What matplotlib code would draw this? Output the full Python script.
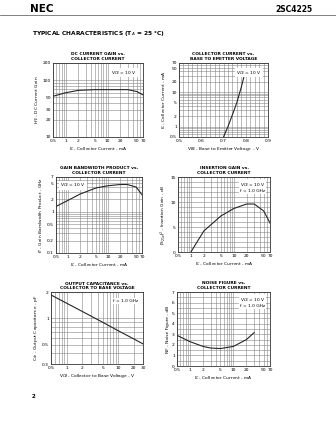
import matplotlib
matplotlib.use("Agg")
import matplotlib.pyplot as plt
from matplotlib.ticker import FixedLocator, MultipleLocator

# ─── data ─────────────────────────────────────────
hfe_ic = [0.5, 1, 2, 5, 10, 20, 30, 50, 70]
hfe_val = [52, 60, 66, 68, 68, 68, 68, 63, 55]

vbe_v = [0.70, 0.72, 0.74, 0.76, 0.78, 0.80]
vbe_ic = [0.5, 1.0, 2.2, 5, 14, 45]

ft_ic = [0.5, 1, 2, 5, 10, 20, 30, 50, 70]
ft_val = [1.35, 1.9, 2.7, 3.8, 4.3, 4.6, 4.6, 4.0, 2.6]

s21_ic = [1, 2, 5, 10, 20, 30, 50, 70]
s21_val = [0, 4.2, 7.2, 8.7, 9.6, 9.6, 8.2, 5.8]

cob_vcb = [0.5, 1, 2, 5, 10, 20, 30]
cob_val = [1.85, 1.49, 1.20, 0.90, 0.72, 0.58, 0.51]

nf_ic = [0.5, 1, 2, 3, 5, 10, 20, 30]
nf_val = [2.9, 2.3, 1.85, 1.7, 1.65, 1.85, 2.5, 3.15]

ic_ticks = [0.5, 1, 2, 5, 10, 20, 50, 70]
ic_labels = ["0.5", "1", "2", "5", "10", "20", "50", "70"]

W, H = 336, 434
FS = 3.2
GRID = dict(color="0.52", linewidth=0.4)

fig = plt.figure(figsize=(W / 100, H / 100), dpi=100)
fig.patch.set_facecolor("white")


def rect(x0, y0, x1, y1):
    return [x0 / W, 1 - y1 / H, (x1 - x0) / W, (y1 - y0) / H]


def log_grid_lines(lo, hi):
    vals = []
    for e in range(-3, 4):
        for m in range(1, 10):
            v = m * 10.0 ** e
            if lo * 0.999 <= v <= hi * 1.001:
                vals.append(v)
    return vals


def setup(ax, title, xlabel, ylabel):
    ax.text(0.5, 1.03, title, transform=ax.transAxes, ha="center", va="bottom",
            fontsize=FS, fontweight="bold", linespacing=1.1)
    ax.set_xlabel(xlabel, fontsize=FS, labelpad=1.5)
    ax.set_ylabel(ylabel, fontsize=FS, labelpad=1.5)
    ax.tick_params(which="both", labelsize=FS, length=0, pad=1.5)
    for s in ax.spines.values():
        s.set_linewidth(0.6)
        s.set_color("0.2")


def log_x(ax, lo, hi, ticks, labels):
    ax.set_xscale("log")
    ax.set_xlim(lo, hi)
    ax.xaxis.set_major_locator(FixedLocator(ticks))
    ax.set_xticklabels(labels)
    ax.xaxis.set_minor_locator(FixedLocator([]))
    for v in log_grid_lines(lo, hi):
        ax.axvline(v, **GRID, zorder=0)


def log_y(ax, lo, hi, ticks, labels):
    ax.set_yscale("log")
    ax.set_ylim(lo, hi)
    ax.yaxis.set_major_locator(FixedLocator(ticks))
    ax.set_yticklabels(labels)
    ax.yaxis.set_minor_locator(FixedLocator([]))
    for v in log_grid_lines(lo, hi):
        ax.axhline(v, **GRID, zorder=0)


def note(ax, text, x, y, ha="right"):
    ax.text(x, y, text, transform=ax.transAxes, ha=ha, va="top", fontsize=FS,
            linespacing=1.1,
            bbox=dict(facecolor="white", edgecolor="none", pad=0.6), zorder=5)


ic_label = "I$_C$ - Collector Current - mA"

# ─── DC current gain ─────────────────────────────
ax1 = fig.add_axes(rect(53, 63, 143, 137))
log_x(ax1, 0.5, 70, ic_ticks, ic_labels)
log_y(ax1, 10, 200, [10, 20, 30, 50, 100, 200], ["10", "20", "30", "50", "100", "200"])
ax1.plot(hfe_ic, hfe_val, color="0.15", linewidth=0.8)
note(ax1, "V$_{CE}$ = 10 V", 0.93, 0.92)
setup(ax1, "DC CURRENT GAIN vs.\nCOLLECTOR CURRENT", ic_label, "h$_{FE}$ - DC Current Gain")

# ─── collector current vs. VBE ───────────────────
ax2 = fig.add_axes(rect(179, 63, 268, 137))
ax2.set_xlim(0.5, 0.9)
ax2.xaxis.set_major_locator(FixedLocator([0.5, 0.6, 0.7, 0.8, 0.9]))
ax2.xaxis.set_minor_locator(MultipleLocator(0.02))
ax2.grid(True, which="both", axis="x", **GRID)
log_y(ax2, 0.5, 70, [0.5, 1, 2, 5, 10, 20, 50, 70], ["0.5", "1", "2", "5", "10", "20", "50", "70"])
ax2.set_axisbelow(True)
ax2.plot(vbe_v, vbe_ic, color="0.15", linewidth=0.8)
note(ax2, "V$_{CE}$ = 10 V", 0.93, 0.92)
setup(ax2, "COLLECTOR CURRENT vs.\nBASE TO EMITTER VOLTAGE",
      "V$_{BE}$ - Base to Emitter Voltage - V", "I$_C$ - Collector Current - mA")

# ─── gain bandwidth product ──────────────────────
ax3 = fig.add_axes(rect(56, 177, 142, 253))
log_x(ax3, 0.5, 70, ic_ticks, ic_labels)
log_y(ax3, 0.1, 7, [0.1, 0.2, 0.5, 1, 2, 5, 7], ["0.1", "0.2", "0.5", "1", "2", "5", "7"])
ax3.plot(ft_ic, ft_val, color="0.15", linewidth=0.8)
note(ax3, "V$_{CE}$ = 10 V", 0.05, 0.94, ha="left")
setup(ax3, "GAIN BANDWIDTH PRODUCT vs.\nCOLLECTOR CURRENT", ic_label,
      "f$_T$ - Gain Bandwidth Product - GHz")

# ─── insertion gain ──────────────────────────────
ax4 = fig.add_axes(rect(178, 177, 270, 252))
log_x(ax4, 0.5, 70, ic_ticks, ic_labels)
ax4.set_ylim(0, 15)
ax4.yaxis.set_major_locator(FixedLocator([0, 5, 10, 15]))
ax4.yaxis.set_minor_locator(MultipleLocator(1))
ax4.grid(True, which="both", axis="y", **GRID)
ax4.set_axisbelow(True)
ax4.plot(s21_ic, s21_val, color="0.15", linewidth=0.8)
note(ax4, "V$_{CE}$ = 10 V\nf = 1.0 GHz", 0.95, 0.94)
setup(ax4, "INSERTION GAIN vs.\nCOLLECTOR CURRENT", ic_label,
      "|S$_{21e}$|$^2$ - Insertion Gain - dB")

# ─── output capacitance ──────────────────────────
ax5 = fig.add_axes(rect(51, 292, 143, 364))
log_x(ax5, 0.5, 30, [0.5, 1, 2, 5, 10, 20, 30],
      ["0.5", "1", "2", "5", "10", "20", "30"])
log_y(ax5, 0.3, 2, [0.3, 0.5, 1, 2], ["0.3", "0.5", "1", "2"])
ax5.plot(cob_vcb, cob_val, color="0.15", linewidth=0.8)
note(ax5, "f = 1.0 GHz", 0.95, 0.9)
setup(ax5, "OUTPUT CAPACITANCE vs.\nCOLLECTOR TO BASE VOLTAGE",
      "V$_{CB}$ - Collector to Base Voltage - V", "C$_{ob}$ - Output Capacitance - pF")

# ─── noise figure ────────────────────────────────
ax6 = fig.add_axes(rect(177, 292, 270, 366))
log_x(ax6, 0.5, 70, ic_ticks, ic_labels)
ax6.set_ylim(0, 7)
ax6.yaxis.set_major_locator(MultipleLocator(1))
ax6.yaxis.set_minor_locator(MultipleLocator(0.5))
ax6.grid(True, which="both", axis="y", **GRID)
ax6.set_axisbelow(True)
ax6.plot(nf_ic, nf_val, color="0.15", linewidth=0.8)
note(ax6, "V$_{CE}$ = 10 V\nf = 1.0 GHz", 0.95, 0.94)
setup(ax6, "NOISE FIGURE vs.\nCOLLECTOR CURRENT", ic_label, "NF - Noise Figure - dB")

# ─── page header / footer ────────────────────────
fig.text(30 / W, 1 - 9 / H, "NEC", fontsize=7.5, fontweight="bold", va="center", ha="left")
fig.text(312 / W, 1 - 9 / H, "2SC4225", fontsize=5.5, fontweight="bold", va="center", ha="right")
fig.add_artist(plt.Line2D([0.0, 1.0], [1 - 15 / H, 1 - 15 / H], color="0.3", linewidth=0.5))
fig.text(32 / W, 1 - 33 / H, "TYPICAL CHARACTERISTICS (T$_A$ = 25 °C)", fontsize=4.2,
         fontweight="bold", va="center", ha="left")
fig.text(32 / W, 1 - 397 / H, "2", fontsize=4, fontweight="bold", va="center", ha="left")

fig.savefig("out.png", dpi=100, facecolor="white")
